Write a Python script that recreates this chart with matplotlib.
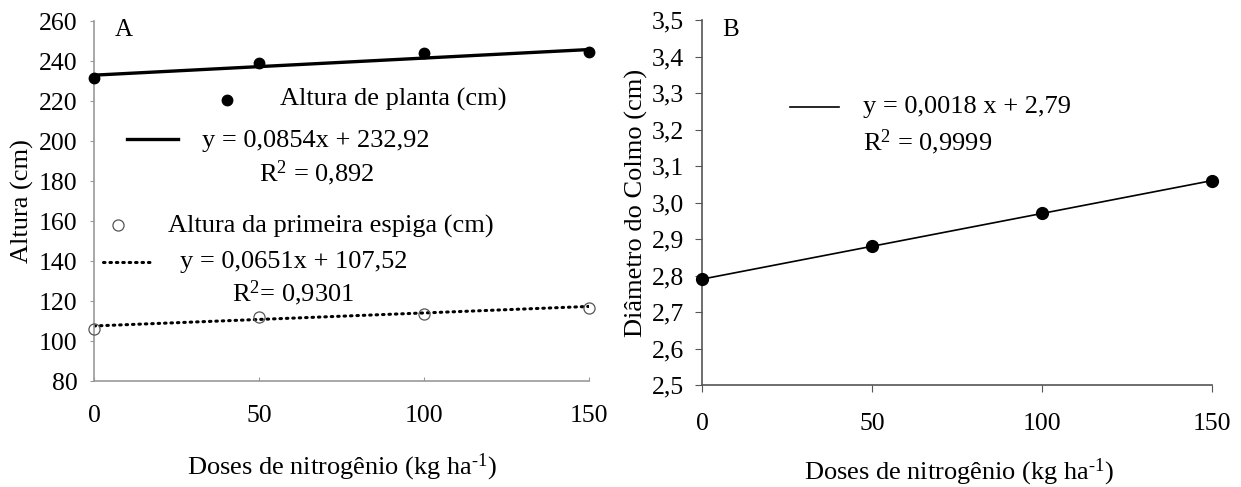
import matplotlib
matplotlib.use("Agg")
import matplotlib.pyplot as plt
import numpy as np

plt.rcParams['font.family'] = ['Liberation Serif', 'DejaVu Serif']
plt.rcParams['mathtext.fontset'] = 'custom'
plt.rcParams['mathtext.rm'] = 'Liberation Serif'
plt.rcParams['mathtext.it'] = 'Liberation Serif:italic'

# ---- data ----
doses = [0, 50, 100, 150]
altura_planta = [231.5, 239.1, 244.0, 244.5]
altura_espiga = [106.0, 112.2, 113.5, 116.4]
diametro_colmo = [2.79, 2.88, 2.97, 3.06]

fit_planta = (0.0854, 232.92)
fit_espiga = (0.0651, 107.52)
fit_colmo = (0.0018, 2.79)

xticks = [0, 50, 100, 150]
yticks_A = [80, 100, 120, 140, 160, 180, 200, 220, 240, 260]
yticks_B = [2.5, 2.6, 2.7, 2.8, 2.9, 3.0, 3.1, 3.2, 3.3, 3.4, 3.5]

xlabel = r'Doses de nitrogênio (kg ha$^{\text{-1}}$)'
FT = 18.5   # tick labels
FL = 19     # legend / labels
FP = 18     # panel letter

W, H = 1241, 487
fig = plt.figure(figsize=(W/100, H/100), dpi=100)
axA = fig.add_axes([94/W, 1-381/H, 495/W, 360/H])
axB = fig.add_axes([702/W, 1-385/H, 510/W, 365/H])

xs = np.array([0, 150])
DOT = (0, (0.5, 1.6))

# ---- Panel A ----
axA.plot(xs, fit_planta[0]*xs + fit_planta[1], color='black', lw=2.4, zorder=2)
axA.plot(doses, altura_planta, 'o', color='black', ms=7.5, zorder=3, clip_on=False)
axA.plot(xs, fit_espiga[0]*xs + fit_espiga[1], color='black', lw=2.2,
         linestyle=DOT, dash_capstyle='round', zorder=2)
axA.plot(doses, altura_espiga, 'o', mfc='none', mec='#555555', mew=0.9, ms=8, zorder=3, clip_on=False)
axA.set_xlim(0, 150)
axA.set_ylim(80, 260)
axA.set_xticks(xticks)
axA.set_yticks(yticks_A)
axA.set_xticklabels([str(v) for v in xticks])
axA.set_yticklabels([str(v) for v in yticks_A])
for s in ['top', 'right']:
    axA.spines[s].set_visible(False)
for s in ['left', 'bottom']:
    axA.spines[s].set_color('#999999')
    axA.spines[s].set_linewidth(1.2)
axA.tick_params(axis='y', direction='out', length=3, color='#999999', labelsize=FT, pad=9)
axA.tick_params(axis='x', direction='in', length=3, color='#999999', labelsize=FT, pad=17)
axA.set_xlabel(xlabel, fontsize=FL, va='center')
axA.xaxis.set_label_coords((342-94)/495, (381-467)/360)
axA.set_ylabel('Altura (cm)', fontsize=FL, va='center')
axA.yaxis.set_label_coords((22-94)/495, 0.5)
axA.text(0.042, 0.975, 'A', transform=axA.transAxes, fontsize=FP, va='center', ha='left')

# legend A (manual)
tA = axA.transAxes
axA.plot([0.269], [0.781], 'o', color='black', ms=7.5, transform=tA, clip_on=False)
axA.text(0.376, 0.781, 'Altura de planta (cm)', transform=tA, fontsize=FL, va='center', ha='left')
axA.plot([0.067, 0.170], [0.672, 0.672], color='black', lw=2.4, transform=tA)
axA.text(0.218, 0.667, 'y = 0,0854x + 232,92', transform=tA, fontsize=FL, va='center', ha='left')
axA.text(0.451, 0.578, r'R$^{\mathregular{2}}$ = 0,892', transform=tA, fontsize=FL, va='center', ha='center')
axA.plot([0.048], [0.433], 'o', mfc='none', mec='#555555', mew=0.9, ms=8, transform=tA)
axA.text(0.149, 0.428, 'Altura da primeira espiga (cm)', transform=tA, fontsize=FL, va='center', ha='left')
axA.plot([0.018, 0.113], [0.331, 0.331], color='black', lw=2.2, linestyle=DOT,
         dash_capstyle='round', transform=tA)
axA.text(0.174, 0.331, 'y = 0,0651x + 107,52', transform=tA, fontsize=FL, va='center', ha='left')
axA.text(0.402, 0.244, r'R$^{\mathregular{2}}$= 0,9301', transform=tA, fontsize=FL, va='center', ha='center')

# ---- Panel B ----
axB.plot(xs, fit_colmo[0]*xs + fit_colmo[1], color='black', lw=1.2, zorder=2)
axB.plot(doses, diametro_colmo, 'o', color='black', ms=8.5, zorder=3, clip_on=False)
axB.set_xlim(0, 150)
axB.set_ylim(2.5, 3.5)
axB.set_xticks(xticks)
axB.set_yticks(yticks_B)
axB.set_xticklabels([str(v) for v in xticks])
axB.set_yticklabels([f'{v:.1f}'.replace('.', ',') for v in yticks_B])
for s in ['top', 'right']:
    axB.spines[s].set_visible(False)
for s in ['left', 'bottom']:
    axB.spines[s].set_color('#555555')
    axB.spines[s].set_linewidth(1.2)
axB.tick_params(axis='both', direction='out', length=5, color='#555555', labelsize=FT)
axB.tick_params(axis='y', pad=8)
axB.tick_params(axis='x', pad=15)
axB.set_xlabel(xlabel, fontsize=FL, va='center')
axB.xaxis.set_label_coords((959-702)/510, (385-472)/365)
axB.set_ylabel('Diâmetro do Colmo (cm)', fontsize=FL, va='center')
axB.yaxis.set_label_coords((636-702)/510, 0.5)
axB.text(0.039, 0.973, 'B', transform=axB.transAxes, fontsize=FP, va='center', ha='left')

tB = axB.transAxes
axB.plot([0.173, 0.269], [0.762, 0.762], color='black', lw=1.2, transform=tB)
axB.text(0.316, 0.762, 'y = 0,0018 x + 2,79', transform=tB, fontsize=FL, va='center', ha='left')
axB.text(0.316, 0.666, r'R$^{\mathregular{2}}$ = 0,9999', transform=tB, fontsize=FL, va='center', ha='left')

fig.savefig('out.png', dpi=100)
